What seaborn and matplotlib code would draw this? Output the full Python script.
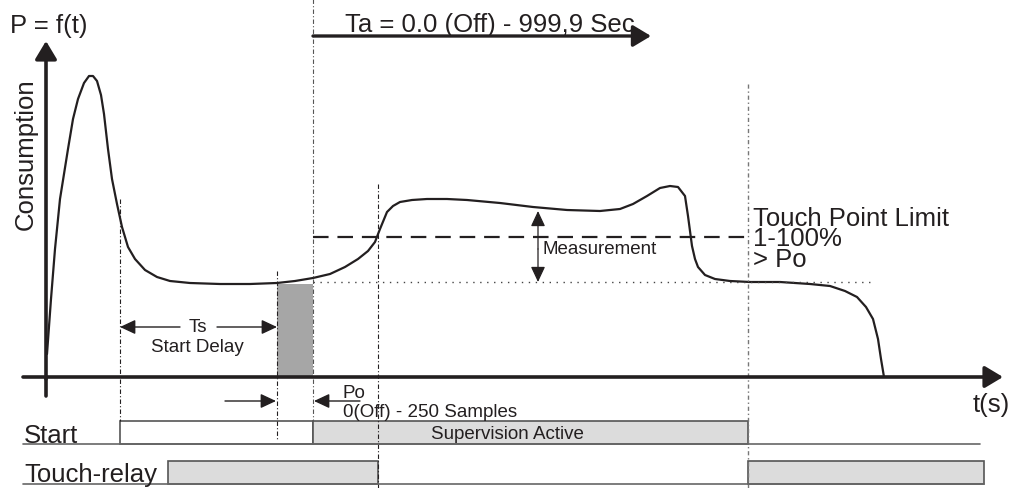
import matplotlib
matplotlib.use('Agg')
import matplotlib.pyplot as plt
import seaborn as sns
import pandas as pd

sns.set_style('white')
plt.rcParams['font.family'] = ['Liberation Sans', 'DejaVu Sans']

# consumption curve (pixel units, y grows downward)
curve_x = [47, 51, 55, 60, 68, 73, 78, 84, 89, 93, 97, 101, 104, 108, 112, 117, 122, 128,
           135, 145, 157, 170, 190, 220, 250, 277, 295, 313, 330, 345, 358, 368, 375, 380,
           387, 393, 400, 412, 427, 447, 467, 500, 533, 567, 600, 620, 633, 647, 660, 670,
           678, 685, 688, 692, 695, 698, 705, 715, 730, 750, 780, 810, 830, 845, 857,
           866, 873, 878, 881, 884]
curve_y = [355, 300, 250, 200, 150, 120, 100, 84, 77, 77, 82, 96, 115, 150, 180, 205, 228, 248,
           260, 271, 278, 282, 284, 285, 285, 284, 282, 279, 275, 268, 260, 252, 243, 230,
           213, 207, 203, 201, 200, 200, 201, 204, 208, 211, 212, 210, 205, 197, 189, 187,
           188, 197, 217, 247, 260, 268, 276, 280, 282, 283, 283, 285, 287, 292, 298,
           308, 320, 340, 360, 378]

# timing marks on the time axis
t_start = 120
t_ts_end = 277
t_po_end = 313
t_touch = 378
t_stop = 748
limit_y = 238
po_y = 283

# signal rows: (label, boxes as (x0, x1, fill, text))
row_labels = ['Start', 'Touch-relay']
start_boxes = [(120, 313, 'white', ''), (313, 748, '#dcdcdc', 'Supervision Active')]
relay_boxes = [(168, 378, '#dcdcdc', ''), (748, 984, '#dcdcdc', '')]

ink = '#231f20'
big = 18.5
small = 13.5

fig = plt.figure(figsize=(10.16, 4.89), dpi=100)
ax = fig.add_axes([0, 0, 1, 1])
ax.set_xlim(0, 1016)
ax.set_ylim(489, 0)
ax.axis('off')

df = pd.DataFrame({'t': curve_x, 'p': curve_y})
sns.lineplot(data=df, x='t', y='p', ax=ax, color=ink, lw=1.6, sort=False)


def arrow(x0, y0, x1, y1, lw=1.0, hl=0.47, hw=0.22, ms=20):
    ax.annotate('', xy=(x1, y1), xytext=(x0, y0),
                arrowprops=dict(arrowstyle=f'-|>,head_length={hl},head_width={hw}',
                                color=ink, lw=lw, mutation_scale=ms,
                                shrinkA=0, shrinkB=0))


# axes
arrow(23, 378, 1003, 378, lw=2.6, hl=0.5, hw=0.3, ms=22)
ax.plot([46, 46], [397, 378], color=ink, lw=2.6)
arrow(46, 380, 46, 42, lw=2.6, hl=0.5, hw=0.3, ms=22)

# vertical guides
ax.plot([t_start, t_start], [200, 422], color=ink, lw=0.8, ls=(0, (4, 2, 1, 2)))
ax.plot([t_ts_end, t_ts_end], [272, 442], color=ink, lw=0.8, ls=(0, (4, 2, 1, 2)))
ax.plot([t_po_end, t_po_end], [0, 422], color='#555555', lw=0.8, ls=(0, (4, 2, 1, 2)))
ax.plot([t_touch, t_touch], [185, 489], color=ink, lw=0.8, ls=(0, (4, 2, 1, 2)))
ax.plot([t_stop, t_stop], [85, 489], color='#777777', lw=1.0, ls=(0, (3, 2, 1, 2)))

# Po shaded window
ax.fill_between([t_ts_end, t_po_end], 285, 378, color='#a6a6a6', lw=0)

# limit and Po levels
ax.plot([t_po_end, t_stop], [limit_y, limit_y], color=ink, lw=1.6, dashes=(7, 4))
ax.plot([t_po_end, 875], [po_y, po_y], color='#444444', lw=1.0, ls=(0, (1, 4)))

# measurement arrow
arrow(538, 250, 538, 212, lw=0.9)
arrow(538, 250, 538, 283, lw=0.9)
ax.text(542, 254, 'Measurement', fontsize=small, color=ink, va='baseline')

# Ta arrow
arrow(313, 37, 651, 37, lw=2.4, hl=0.5, hw=0.3, ms=22)
ax.text(345, 32, 'Ta = 0.0 (Off) - 999,9 Sec.', fontsize=big, color=ink, va='baseline')

# titles
ax.text(10, 33, 'P = f(t)', fontsize=big, color=ink, va='baseline')
ax.text(33, 154, 'Consumption', fontsize=big, color=ink, rotation=90,
        rotation_mode='anchor', ha='center', va='baseline')
ax.text(973, 412, 't(s)', fontsize=big, color=ink, va='baseline')

ax.text(753, 267, 'Touch Point Limit\n1-100%\n> Po', fontsize=big, color=ink,
        va='baseline', linespacing=0.82)

# Ts start delay
arrow(180, 328, t_start, 328, lw=1.0)
arrow(217, 328, t_ts_end, 328, lw=1.0)
ax.text(198, 332, 'Ts', fontsize=small, color=ink, ha='center', va='baseline')
ax.text(197, 352, 'Start Delay', fontsize=small, color=ink, ha='center', va='baseline')

# Po samples
arrow(225, 402, 276, 402, lw=1.0)
arrow(360, 402, 314, 402, lw=1.0)
ax.text(343, 398, 'Po', fontsize=small, color=ink, va='baseline')
ax.text(343, 417, '0(Off) - 250 Samples', fontsize=small, color=ink, va='baseline')

# signal rows
rows = [(row_labels[0], 443, 445, 422, 980, start_boxes),
        (row_labels[1], 482, 485, 462, 984, relay_boxes)]
for label, base, y1, y0, xend, boxes in rows:
    ax.text(24, base, label, fontsize=big, color=ink, va='baseline')
    ax.plot([23, xend], [y1, y1], color='#666666', lw=1.2)
    for x0, x1, fill, txt in boxes:
        ax.add_patch(plt.Rectangle((x0, y0), x1 - x0, y1 - y0, facecolor=fill,
                                   edgecolor='#555555', lw=1.2))
        if txt:
            ax.text(507, 439, txt, fontsize=small, color=ink,
                    ha='center', va='baseline')

fig.savefig('out.png', dpi=100)
